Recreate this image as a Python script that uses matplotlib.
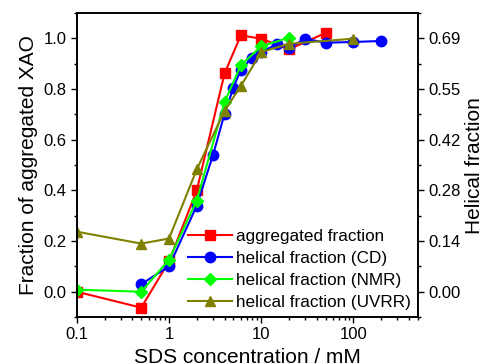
import matplotlib
matplotlib.use("Agg")
import matplotlib.pyplot as plt
from matplotlib.ticker import LogLocator, NullFormatter, MultipleLocator, FixedLocator, FixedFormatter

plt.rcParams['font.family'] = ['Liberation Sans', 'DejaVu Sans']

agg_x = [0.1, 0.5, 1, 2, 4, 6, 10, 20, 50]
agg_y = [0.0, -0.063, 0.12, 0.40, 0.862, 1.012, 0.999, 0.957, 1.022]

cd_x = [0.5, 1, 2, 3, 4, 5, 6, 8, 10, 15, 20, 30, 50, 100, 200]
cd_y = [0.03, 0.10, 0.34, 0.54, 0.703, 0.806, 0.877, 0.924, 0.946, 0.979, 0.962, 0.999, 0.983, 0.986, 0.99]

nmr_x = [0.1, 0.5, 1, 2, 4, 6, 10, 20]
nmr_y = [0.008, 0.0, 0.126, 0.36, 0.749, 0.894, 0.969, 1.003]

uv_x = [0.1, 0.5, 1, 2, 4, 6, 10, 20, 100]
uv_y = [0.237, 0.19, 0.21, 0.483, 0.714, 0.812, 0.946, 0.979, 0.999]

right_ticks = [0.0, 0.2, 0.4, 0.6, 0.8, 1.0]
right_labels = ["0.00", "0.14", "0.28", "0.42", "0.55", "0.69"]

fig = plt.figure(figsize=(4.86, 3.64), dpi=100)
ax = fig.add_axes([0.158, 0.129, 0.702, 0.835])

ax.plot(agg_x, agg_y, '-s', color='#ff0000', ms=6.5, lw=1.5, label='aggregated fraction')
ax.plot(cd_x, cd_y, '-o', color='#0000ff', ms=7.5, lw=1.5, label='helical fraction (CD)')
ax.plot(nmr_x, nmr_y, '-D', color='#00ff00', ms=6.5, lw=1.5, label='helical fraction (NMR)')
ax.plot(uv_x, uv_y, '-^', color='#808000', ms=7.5, lw=1.5, label='helical fraction (UVRR)')

ax.set_xscale('log')
ax.set_xlim(0.1, 500)
ax.set_ylim(-0.1, 1.1)
ax.xaxis.set_major_locator(FixedLocator([0.1, 1, 10, 100]))
ax.xaxis.set_major_formatter(FixedFormatter(['0.1', '1', '10', '100']))
ax.xaxis.set_minor_locator(LogLocator(base=10, subs=range(2, 10), numticks=20))
ax.xaxis.set_minor_formatter(NullFormatter())
ax.yaxis.set_major_locator(FixedLocator([0.0, 0.2, 0.4, 0.6, 0.8, 1.0]))
ax.yaxis.set_major_formatter(FixedFormatter(['0.0', '0.2', '0.4', '0.6', '0.8', '1.0']))
ax.yaxis.set_minor_locator(MultipleLocator(0.1))

ax.tick_params(which='major', direction='out', length=4, width=1, labelsize=12)
ax.tick_params(which='minor', direction='out', length=2.5, width=1)

ax2 = ax.twinx()
ax2.set_ylim(-0.1, 1.1)
ax2.yaxis.set_major_locator(FixedLocator(right_ticks))
ax2.yaxis.set_major_formatter(FixedFormatter(right_labels))
ax2.yaxis.set_minor_locator(MultipleLocator(0.1))
ax2.tick_params(which='major', direction='out', length=4, width=1, labelsize=12)
ax2.tick_params(which='minor', direction='out', length=2.5, width=1)

for a in (ax, ax2):
    for s in a.spines.values():
        s.set_linewidth(1.2)

ax.set_xlabel('SDS concentration / mM', fontsize=15, labelpad=4)
ax.set_ylabel('Fraction of aggregated XAO', fontsize=15)
ax2.set_ylabel('Helical fraction', fontsize=15, labelpad=3)

leg = ax.legend(loc='lower right', frameon=False, fontsize=12.3, handlelength=2.6,
                handletextpad=0.25, labelspacing=0.42, borderaxespad=0.0,
                bbox_to_anchor=(1.0, 0.0))

fig.savefig('out.png', dpi=100)
